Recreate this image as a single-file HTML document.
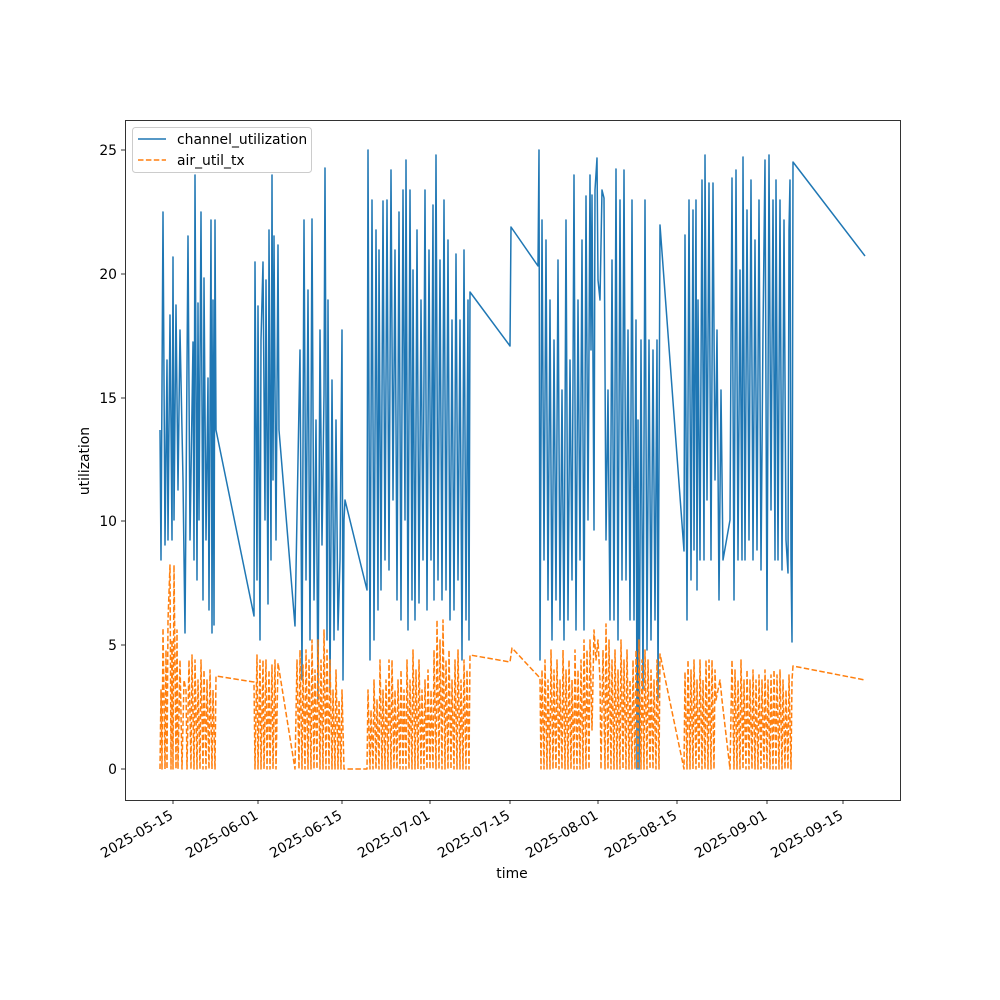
<!DOCTYPE html>
<html><head><meta charset="utf-8"><style>
body{margin:0;background:#fff;}
svg{display:block;font-family:"DejaVu Sans","Liberation Sans",sans-serif;}
</style></head><body>
<svg width="1000" height="1000" viewBox="0 0 1000 1000" xmlns="http://www.w3.org/2000/svg">
<rect width="1000" height="1000" fill="#fff"/>
<defs><clipPath id="c"><rect x="125" y="120" width="775" height="680"/></clipPath></defs>
<g clip-path="url(#c)" fill="none" stroke-linejoin="round">
<polyline stroke="#1f77b4" stroke-width="1.5" points="160,430 161,560 163,212 165,545 167,360 168,540 170,315 172,540 173,257 174,520 176,305 178,490 180,330 183,480 185,633 188,236 190,540 193,342 194,560 195,175 197,580 198,303 199,520 201,212 203,600 204,278 206,540 208,378 209,610 211,220 212,633 213,300 214,625 215,220 216,430 254,616 255,262 257,580 258,306 260,640 261,340 263,262 265,520 266,280 268,604 269,230 271,560 272,175 273,480 274,236 276,540 278,245 279,430 295,626 300,350 302,680 304,220 306,580 308,290 310,640 312,219 314,600 316,420 318,700 320,330 322,545 324,395 325,168 327,640 328,300 330,690 332,380 334,640 336,420 338,630 340,560 342,330 343,680 344,520 345,500 367,590 368,150 370,660 372,200 374,640 376,230 378,610 379,250 381,590 383,201 385,560 387,200 389,570 391,170 393,500 395,250 397,600 399,212 401,620 403,190 405,520 406,160 408,630 410,190 412,600 413,270 415,620 417,230 419,603 421,300 423,560 425,190 427,610 429,250 431,560 433,205 434,600 436,155 438,580 440,260 442,600 444,200 446,590 448,240 450,620 452,320 454,610 456,254 458,580 460,320 462,660 464,250 466,620 468,300 469,640 470,292 510,346 511,227 538,266 539,150 540,660 542,220 544,560 546,240 548,600 550,300 552,640 554,340 556,600 558,260 560,620 562,390 564,640 566,220 568,620 570,360 572,580 574,175 576,630 578,300 580,560 582,240 584,630 586,196 588,520 590,175 591,350 592,195 594,530 595,190 597,158 598,280 600,300 602,190 604,198 606,540 608,390 610,620 612,260 614,620 616,169 618,640 620,200 622,580 624,170 626,580 628,330 630,620 632,200 634,620 636,320 637,769 638,420 639,769 641,340 643,690 645,200 647,650 649,340 651,640 653,350 655,620 657,340 658,700 660,225 684,551 685,235 687,620 689,200 691,580 693,210 694,550 696,200 697,590 698,300 700,560 702,180 704,560 705,155 707,500 709,183 711,560 713,183 715,480 717,330 719,600 721,390 723,560 730,520 732,178 734,600 736,170 738,560 740,270 742,560 743,157 745,560 747,210 749,540 751,180 753,560 755,240 757,550 759,200 761,570 763,330 765,160 767,630 769,155 771,510 773,200 775,560 776,180 778,560 780,200 782,570 784,220 786,540 788,573 789,230 790,180 791,560 792,642 793,162 865,256"/>
<polyline stroke="#ff7f0e" stroke-width="1.5" stroke-dasharray="5.5,2.4" points="160,769 161,690 162,769 163,628 165,769 166,650 167,769 168,620 170,565 171,769 172,640 173,769 174,565 175,660 176,769 177,630 178,769 180,660 182,769 184,680 186,690 187,769 189,660 191,769 192,655 194,769 195,660 197,769 198,680 200,769 201,660 203,769 204,670 206,769 207,680 209,769 210,670 212,769 213,690 215,769 216,676 254,682 255,769 257,655 258,769 260,660 261,769 263,660 264,769 266,660 267,769 269,670 270,769 272,665 273,769 275,660 276,769 278,663 295,769 297,660 299,769 300,650 302,769 303,665 305,769 306,650 308,769 309,660 311,769 312,640 314,769 315,670 317,769 318,640 320,769 321,660 323,769 324,630 326,769 327,650 329,769 330,660 332,769 333,690 335,769 336,670 338,769 339,700 341,769 342,690 344,769 345,769 367,769 368,690 370,769 371,710 373,769 374,680 376,769 377,700 379,769 380,660 382,769 383,690 385,769 386,680 388,769 389,660 391,769 392,660 394,769 395,690 397,769 398,680 400,769 401,670 403,769 404,690 406,769 407,660 409,769 410,680 412,769 413,650 415,769 416,670 418,769 419,660 421,769 422,690 424,769 425,680 427,769 428,670 430,769 431,690 433,769 434,650 436,769 437,620 439,769 440,640 442,769 443,620 445,769 446,660 448,769 449,650 451,769 452,680 454,769 455,660 457,769 458,650 460,769 461,680 463,769 464,660 466,769 467,670 469,769 470,655 510,662 512,648 540,678 541,769 542,670 544,769 545,660 547,769 548,680 550,769 551,650 553,769 554,670 556,769 557,660 559,769 560,680 562,769 563,650 565,769 566,670 568,769 569,660 571,769 572,680 574,769 575,650 577,769 578,670 580,769 581,660 583,769 584,640 586,769 587,650 589,769 590,640 592,730 594,630 596,660 598,640 600,680 601,769 603,650 605,769 606,624 608,769 609,640 611,769 612,660 614,769 615,650 617,769 618,670 620,769 621,640 623,769 624,660 626,769 627,650 629,769 630,680 632,769 633,660 635,769 636,650 638,769 639,640 641,769 642,660 644,769 645,650 647,769 648,660 650,769 651,670 653,769 654,680 656,769 657,660 659,769 660,654 684,769 685,672 687,769 688,660 690,769 691,670 693,769 694,660 696,769 697,680 699,769 700,660 702,769 703,680 705,769 706,660 708,769 709,660 711,769 712,660 714,769 715,670 716,700 718,690 720,680 722,700 730,769 732,660 734,769 735,670 737,769 738,680 740,769 741,660 743,769 744,680 746,769 747,670 749,769 750,680 752,769 753,670 755,769 756,680 758,769 759,675 761,769 762,680 764,769 765,670 767,769 768,680 770,769 771,675 773,769 774,670 776,769 777,675 779,769 780,670 782,769 783,680 785,769 786,690 788,769 789,675 791,769 792,680 793,666 865,680"/>
</g>
<rect x="125.5" y="120.5" width="775" height="680" fill="none" stroke="#000" stroke-width="0.8"/>
<g stroke="#000" stroke-width="0.8">
<line x1="125" y1="769" x2="121" y2="769"/><line x1="125" y1="645" x2="121" y2="645"/><line x1="125" y1="521" x2="121" y2="521"/><line x1="125" y1="398" x2="121" y2="398"/><line x1="125" y1="274" x2="121" y2="274"/><line x1="125" y1="150" x2="121" y2="150"/>
<line x1="173" y1="800" x2="173" y2="804"/><line x1="258" y1="800" x2="258" y2="804"/><line x1="342" y1="800" x2="342" y2="804"/><line x1="430" y1="800" x2="430" y2="804"/><line x1="510" y1="800" x2="510" y2="804"/><line x1="598" y1="800" x2="598" y2="804"/><line x1="677" y1="800" x2="677" y2="804"/><line x1="767" y1="800" x2="767" y2="804"/><line x1="843" y1="800" x2="843" y2="804"/>
</g>
<g font-size="13.9" fill="#000" text-anchor="end">
<text x="117" y="774">0</text><text x="117" y="650">5</text><text x="117" y="526">10</text><text x="117" y="403">15</text><text x="117" y="279">20</text><text x="117" y="155">25</text>
</g>
<g font-size="13.9" fill="#000" text-anchor="end">
<text transform="translate(174,818) rotate(-30)">2025-05-15</text>
<text transform="translate(259,818) rotate(-30)">2025-06-01</text>
<text transform="translate(343,818) rotate(-30)">2025-06-15</text>
<text transform="translate(431,818) rotate(-30)">2025-07-01</text>
<text transform="translate(511,818) rotate(-30)">2025-07-15</text>
<text transform="translate(599,818) rotate(-30)">2025-08-01</text>
<text transform="translate(678,818) rotate(-30)">2025-08-15</text>
<text transform="translate(768,818) rotate(-30)">2025-09-01</text>
<text transform="translate(844,818) rotate(-30)">2025-09-15</text>
</g>
<text x="512" y="878" font-size="13.9" text-anchor="middle">time</text>
<text transform="translate(89,461) rotate(-90)" font-size="13.9" text-anchor="middle">utilization</text>
<rect x="132.5" y="127.5" width="179" height="45" rx="3" fill="#fff" fill-opacity="0.8" stroke="#ccc"/>
<line x1="138" y1="139" x2="166" y2="139" stroke="#1f77b4" stroke-width="1.5"/>
<line x1="138" y1="160" x2="166" y2="160" stroke="#ff7f0e" stroke-width="1.5" stroke-dasharray="5.5,2.4"/>
<text x="177" y="144" font-size="13.9">channel_utilization</text>
<text x="177" y="165" font-size="13.9">air_util_tx</text>
</svg>
</body></html>
